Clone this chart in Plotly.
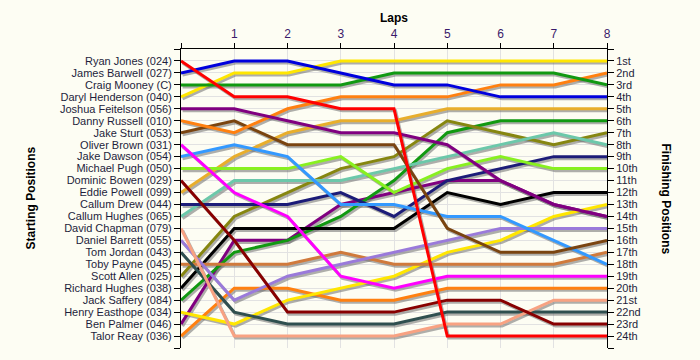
import plotly.graph_objects as go

# ---------------- data ----------------
laps = [0, 1, 2, 3, 4, 5, 6, 7, 8]
lap_labels = ["", "1", "2", "3", "4", "5", "6", "7", "8"]

drivers = [
    "Ryan Jones (024)", "James Barwell (027)", "Craig Mooney (C)", "Daryl Henderson (040)",
    "Joshua Feitelson (056)", "Danny Russell (010)", "Jake Sturt (053)", "Oliver Brown (031)",
    "Jake Dawson (054)", "Michael Pugh (050)", "Dominic Bowen (029)", "Eddie Powell (099)",
    "Callum Drew (044)", "Callum Hughes (065)", "David Chapman (079)", "Daniel Barrett (055)",
    "Tom Jordan (043)", "Toby Payne (045)", "Scott Allen (025)", "Richard Hughes (038)",
    "Jack Saffery (084)", "Henry Easthope (034)", "Ben Palmer (046)", "Talor Reay (036)",
]

finish_labels = [
    "1st", "2nd", "3rd", "4th", "5th", "6th", "7th", "8th", "9th", "10th", "11th", "12th",
    "13th", "14th", "15th", "16th", "17th", "18th", "19th", "20th", "21st", "22nd", "23rd", "24th",
]

# position of each driver at laps 0..8
ryan_jones       = [1, 4, 4, 5, 5, 24, 24, 24, 24]
james_barwell    = [2, 1, 1, 2, 3, 3, 4, 4, 4]
craig_mooney     = [3, 3, 3, 3, 2, 2, 2, 2, 3]
daryl_henderson  = [4, 2, 2, 1, 1, 1, 1, 1, 1]
joshua_feitelson = [5, 5, 6, 7, 7, 8, 11, 13, 14]
danny_russell    = [6, 7, 5, 4, 4, 4, 3, 3, 2]
jake_sturt       = [7, 6, 8, 8, 8, 15, 17, 17, 16]
oliver_brown     = [8, 12, 14, 19, 20, 19, 19, 19, 19]
jake_dawson      = [9, 8, 9, 13, 13, 14, 14, 16, 18]
michael_pugh     = [10, 10, 10, 9, 12, 10, 9, 10, 10]
dominic_bowen    = [11, 16, 22, 22, 22, 21, 21, 23, 23]
eddie_powell     = [12, 9, 7, 6, 6, 5, 5, 5, 5]
callum_drew      = [13, 13, 13, 12, 14, 11, 10, 9, 9]
callum_hughes    = [14, 11, 11, 11, 10, 9, 8, 7, 8]
david_chapman    = [15, 24, 24, 24, 24, 23, 23, 21, 21]
daniel_barrett   = [16, 21, 19, 18, 17, 16, 15, 15, 15]
tom_jordan       = [17, 22, 23, 23, 23, 22, 22, 22, 22]
toby_payne       = [18, 18, 18, 17, 18, 18, 18, 18, 17]
scott_allen      = [19, 14, 12, 10, 9, 6, 7, 8, 7]
richard_hughes   = [20, 15, 15, 15, 15, 12, 13, 12, 12]
jack_saffery     = [21, 17, 16, 14, 11, 7, 6, 6, 6]
henry_easthope   = [22, 23, 21, 20, 19, 17, 16, 14, 13]
ben_palmer       = [23, 16, 16, 13, 12, 11, 11, 13, 14]
talor_reay       = [24, 20, 20, 21, 21, 20, 20, 20, 20]

series = [
    ryan_jones, james_barwell, craig_mooney, daryl_henderson, joshua_feitelson, danny_russell,
    jake_sturt, oliver_brown, jake_dawson, michael_pugh, dominic_bowen, eddie_powell,
    callum_drew, callum_hughes, david_chapman, daniel_barrett, tom_jordan, toby_payne,
    scott_allen, richard_hughes, jack_saffery, henry_easthope, ben_palmer, talor_reay,
]

colors = [
    "#FF0000", "#0000DD", "#119911", "#FFE600", "#800080", "#FF8010",
    "#7A4410", "#FF00FF", "#3399FF", "#88F020", "#880000", "#E8AE2C",
    "#1C1C78", "#6CC8AA", "#F8A282", "#9A7ADA", "#2F4F4F", "#D07A3C",
    "#868610", "#000000", "#119911", "#FFE600", "#800080", "#FF8010",
]

# ---------------- figure ----------------
FONT = "Liberation Sans, Arial, sans-serif"
BG = "#FDFDF3"
GRID = "#E2E2E2"
TICKFONT = 11

fig = go.Figure()

# drop shadows (on hidden, slightly shifted base axes)
for vals in series:
    fig.add_trace(go.Scatter(
        x=laps, y=vals, mode="lines", xaxis="x", yaxis="y",
        line=dict(color="rgba(110,110,110,0.55)", width=3),
        hoverinfo="skip", showlegend=False,
    ))

# invisible helper so the left (starting positions) axis is rendered
fig.add_trace(go.Scatter(
    x=laps, y=series[0], mode="lines", xaxis="x2", yaxis="y2",
    line=dict(color="rgba(0,0,0,0)", width=0), opacity=0,
    hoverinfo="skip", showlegend=False,
))

# main lines (first driver drawn last so it is on top)
for name, vals, col in reversed(list(zip(drivers, series, colors))):
    fig.add_trace(go.Scatter(
        x=laps, y=vals, mode="lines", name=name, xaxis="x2", yaxis="y3",
        line=dict(color=col, width=3),
        showlegend=False,
    ))

pos_ticks = list(range(0, 26))
left_text = [""] + drivers + [""]
right_text = [""] + finish_labels + [""]

fig.update_layout(
    width=700, height=360,
    margin=dict(l=181, r=93, t=49, b=12, autoexpand=False),
    paper_bgcolor=BG, plot_bgcolor=BG,
    font=dict(family=FONT, size=TICKFONT, color="#1E1E3C"),
    showlegend=False,
    xaxis=dict(range=[-0.03, 7.97], visible=False, showgrid=False, fixedrange=True,
               automargin=False),
    yaxis=dict(range=[25 - 0.17, -0.17], visible=False, showgrid=False, fixedrange=True,
               automargin=False),
    xaxis2=dict(
        overlaying="x", side="top", anchor="y2", range=[0, 8], automargin=False,
        tickvals=laps, ticktext=lap_labels, ticks="outside", ticklen=5,
        tickcolor="#000000", showline=True, linecolor="#000000", linewidth=1,
        showgrid=True, gridcolor=GRID, gridwidth=1, zeroline=False,
        tickfont=dict(family=FONT, size=12, color="#3A1A6A"),
    ),
    yaxis2=dict(
        overlaying="y", side="left", anchor="x2", range=[25, 0], automargin=False,
        tickvals=pos_ticks, ticktext=left_text, ticks="outside", ticklen=6,
        tickcolor="#000000", showline=True, linecolor="#000000", linewidth=1,
        showgrid=True, gridcolor=GRID, gridwidth=1, zeroline=False,
        tickfont=dict(family=FONT, size=TICKFONT, color="#1E1E3C"),
    ),
    yaxis3=dict(
        overlaying="y", side="right", anchor="x2", range=[25, 0], automargin=False,
        tickvals=pos_ticks, ticktext=right_text, ticks="outside", ticklen=6,
        tickcolor="#000000", showline=True, linecolor="#000000", linewidth=1,
        showgrid=False, zeroline=False,
        tickfont=dict(family=FONT, size=TICKFONT, color="#1E1E3C"),
    ),
    annotations=[
        dict(text="<b>Laps</b>", xref="paper", yref="paper", x=0.5, y=1, yshift=31,
             xanchor="center", yanchor="middle", showarrow=False,
             font=dict(family=FONT, size=12, color="#000000")),
        dict(text="<b>Starting Positions</b>", xref="paper", yref="paper", x=0, y=0.5,
             xshift=-151, xanchor="center", yanchor="middle", textangle=-90, showarrow=False,
             font=dict(family=FONT, size=12, color="#000000")),
        dict(text="<b>Finishing Positions</b>", xref="paper", yref="paper", x=1, y=0.5,
             xshift=59, xanchor="center", yanchor="middle", textangle=90, showarrow=False,
             font=dict(family=FONT, size=12, color="#000000")),
    ],
)

fig.write_html(
    "out.html",
    config={"displayModeBar": False},
    post_script="document.body.style.margin='0';document.body.style.background='" + BG + "';",
)
